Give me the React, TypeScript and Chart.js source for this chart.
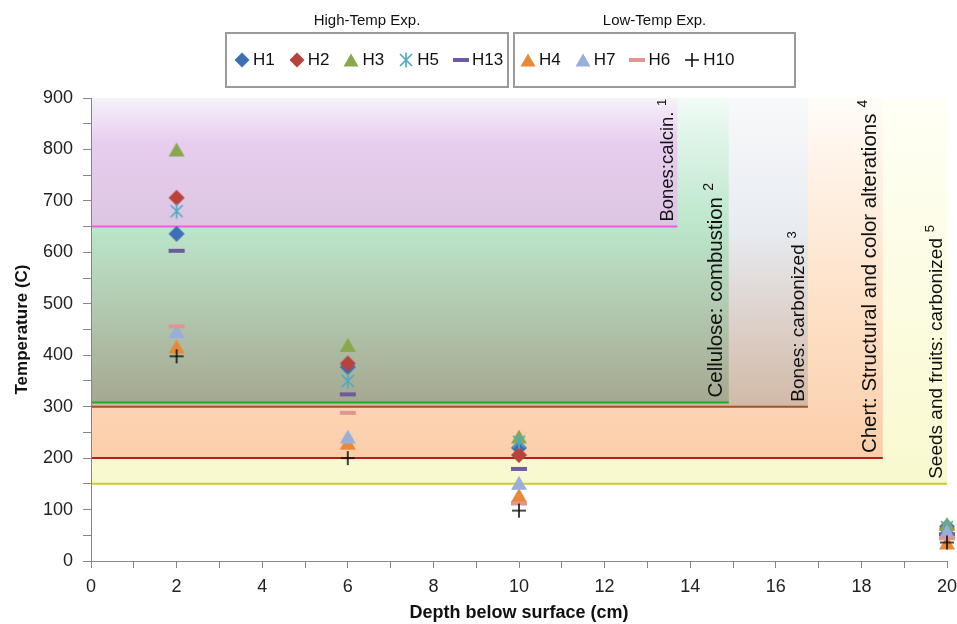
import React, { useEffect, useRef } from 'react';
import { Chart, registerables } from 'chart.js';

Chart.register(...registerables);

// ---------------- data ----------------
const depths = [2, 6, 10, 20];
const h1 = [636, 377, 220, 67];
const h2 = [706, 384, 206, 62];
const h3 = [800, 420, 242, 72];
const h5 = [680, 350, 232, 66];
const h13 = [603, 324, 179, 52];
const h4 = [417, 230, 128, 36];
const h7 = [447, 242, 152, 58];
const h6 = [456, 288, 112, 44];
const h10 = [398, 200, 98, 36];

const seriesNames = ['H1', 'H2', 'H3', 'H5', 'H13', 'H4', 'H7', 'H6', 'H10'];
const seriesValues = [h1, h2, h3, h5, h13, h4, h7, h6, h10];
const groupTitles = ['High-Temp Exp.', 'Low-Temp Exp.'];
const groupSizes = [5, 4];

const zoneNames = [
  'Seeds and fruits: carbonized',
  'Chert: Structural and color alterations',
  'Bones: carbonized',
  'Cellulose: combustion',
  'Bones:calcin.',
];
const zoneNotes = ['5', '4', '3', '2', '1'];
const zoneMinTemp = [150, 200, 300, 308, 650];
const zoneMaxDepth = [20, 18.5, 16.75, 14.9, 13.7];

const xMin = 0;
const xMax = 20;
const yMin = 0;
const yMax = 900;

// ---------------- styles ----------------
const seriesKinds = ['diamond', 'diamond', 'triangle', 'star', 'dash', 'triangle', 'triangle', 'dash', 'plus'];
const seriesColors = ['#3f6fb3', '#b8433c', '#88a84b', '#4baac6', '#6c5b9e', '#e7883b', '#98aedb', '#df9693', '#111111'];

type Stop = [number, string];
const zoneStyles: { stops: Stop[]; line: string; gap: number; size: number }[] = [
  { stops: [[0, '#fffff6'], [1, '#f9f9cf']], line: '#cccc2a', gap: 5, size: 19 },
  { stops: [[0, '#fffcf8'], [0.55, '#fde2c9'], [1, '#fbceaa']], line: '#b0201c', gap: 7, size: 20.5 },
  { stops: [[0, '#f8f9fa'], [0.42, '#e8ecf1'], [1, '#d2b9a7']], line: '#9c5428', gap: 4, size: 19 },
  { stops: [[0, '#f0fbf6'], [0.42, '#bce6cb'], [1, '#a6a890']], line: '#22aa22', gap: 7, size: 20.5 },
  { stops: [[0, '#f6f2f9'], [0.35, '#e7cdef'], [1, '#dcc5e2']], line: '#f45adf', gap: 4, size: 18.5 },
];

const FONT = '"Liberation Sans", Arial, sans-serif';

function makeMarker(kind: string, color: string): HTMLCanvasElement {
  const c = document.createElement('canvas');
  const s = 20;
  c.width = s;
  c.height = s;
  const g = c.getContext('2d')!;
  const m = s / 2;
  g.fillStyle = color;
  g.strokeStyle = color;
  g.lineCap = 'butt';
  g.beginPath();
  if (kind === 'diamond') {
    g.moveTo(m, m - 8);
    g.lineTo(m + 8, m);
    g.lineTo(m, m + 8);
    g.lineTo(m - 8, m);
    g.closePath();
    g.fill();
  } else if (kind === 'triangle') {
    g.moveTo(m, m - 7);
    g.lineTo(m + 8, m + 7);
    g.lineTo(m - 8, m + 7);
    g.closePath();
    g.fill();
  } else if (kind === 'dash') {
    g.fillRect(m - 8, m - 2, 16, 4);
  } else if (kind === 'star') {
    g.lineWidth = 1.6;
    g.moveTo(m - 6, m - 6);
    g.lineTo(m + 6, m + 6);
    g.moveTo(m + 6, m - 6);
    g.lineTo(m - 6, m + 6);
    g.moveTo(m, m - 7.5);
    g.lineTo(m, m + 7.5);
    g.stroke();
  } else if (kind === 'plus') {
    g.lineWidth = 1.6;
    g.moveTo(m - 7, m);
    g.lineTo(m + 7, m);
    g.moveTo(m, m - 7);
    g.lineTo(m, m + 7);
    g.stroke();
  }
  return c;
}

function LegendMarker({ kind, color }: { kind: string; color: string }) {
  const common = { width: 16, height: 16, style: { display: 'block' } as React.CSSProperties };
  if (kind === 'diamond')
    return (
      <svg {...common}>
        <polygon points="8,0.5 15.5,8 8,15.5 0.5,8" fill={color} />
      </svg>
    );
  if (kind === 'triangle')
    return (
      <svg {...common}>
        <polygon points="8,1.5 15.5,14.5 0.5,14.5" fill={color} />
      </svg>
    );
  if (kind === 'dash')
    return (
      <svg {...common}>
        <rect x={0} y={6} width={16} height={4} fill={color} />
      </svg>
    );
  if (kind === 'star')
    return (
      <svg {...common}>
        <path d="M2,2 L14,14 M14,2 L2,14 M8,0.5 L8,15.5" stroke={color} strokeWidth={1.6} fill="none" />
      </svg>
    );
  return (
    <svg {...common}>
      <path d="M1,8 L15,8 M8,1 L8,15" stroke={color} strokeWidth={1.6} fill="none" />
    </svg>
  );
}

const zonePlugin = {
  id: 'zones',
  beforeDraw(chart: any) {
    const { ctx } = chart;
    const xs = chart.scales.x;
    const ys = chart.scales.y;
    const x0 = xs.getPixelForValue(xMin);
    const yTop = ys.getPixelForValue(yMax);
    ctx.save();
    zoneMinTemp.forEach((t, i) => {
      const st = zoneStyles[i];
      const x1 = xs.getPixelForValue(zoneMaxDepth[i]);
      const yb = ys.getPixelForValue(t);
      const g = ctx.createLinearGradient(0, yTop, 0, yb);
      st.stops.forEach(([o, c]) => g.addColorStop(o, c));
      ctx.fillStyle = g;
      ctx.fillRect(x0, yTop, x1 - x0, yb - yTop);
      ctx.strokeStyle = st.line;
      ctx.lineWidth = 2;
      ctx.beginPath();
      ctx.moveTo(x0, yb);
      ctx.lineTo(x1, yb);
      ctx.stroke();
    });
    zoneMinTemp.forEach((t, i) => {
      const st = zoneStyles[i];
      const x1 = xs.getPixelForValue(zoneMaxDepth[i]);
      const yb = ys.getPixelForValue(t);
      ctx.save();
      ctx.translate(x1 - st.gap, yb - 5);
      ctx.rotate(-Math.PI / 2);
      ctx.fillStyle = '#111';
      ctx.textAlign = 'left';
      ctx.textBaseline = 'alphabetic';
      ctx.font = `${st.size}px ${FONT}`;
      const w = ctx.measureText(zoneNames[i]).width + st.size * 0.3;
      ctx.fillText(zoneNames[i], 0, 0);
      ctx.font = `${Math.round(st.size * 0.68)}px ${FONT}`;
      ctx.fillText(zoneNotes[i], w, -st.size * 0.42);
      ctx.restore();
    });
    ctx.restore();
  },
};

export default function App() {
  const ref = useRef<HTMLCanvasElement>(null);

  useEffect(() => {
    const canvas = ref.current!;
    const datasets = seriesNames.map((name, i) => ({
      label: name,
      data: depths.map((d, j) => ({ x: d, y: seriesValues[i][j] })),
      pointStyle: makeMarker(seriesKinds[i], seriesColors[i]),
      pointRadius: 8,
      pointHoverRadius: 8,
      backgroundColor: seriesColors[i],
      borderColor: seriesColors[i],
      showLine: false,
      clip: false as any,
      order: seriesNames.length - i,
    }));
    const chart = new Chart(canvas, {
      type: 'scatter',
      data: { datasets },
      plugins: [zonePlugin],
      options: {
        responsive: false,
        animation: false,
        layout: { padding: { top: 98, right: 0, left: 0, bottom: 0 } },
        plugins: { legend: { display: false }, tooltip: { enabled: false } },
        scales: {
          x: {
            type: 'linear',
            min: xMin,
            max: xMax,
            afterFit: (s: any) => {
              s.height = 63;
              s.paddingLeft = 0;
              s.paddingRight = 10;
            },
            ticks: {
              stepSize: 1,
              autoSkip: false,
              maxRotation: 0,
              padding: 8,
              color: '#222',
              font: { family: FONT, size: 18 },
              callback: (v: any) => (Number(v) % 2 === 0 ? String(v) : ''),
            },
            grid: { drawOnChartArea: false, drawTicks: true, tickLength: 7, color: '#868686' },
            border: { color: '#868686', width: 1 },
            title: {
              display: true,
              text: 'Depth below surface (cm)',
              color: '#111',
              font: { family: FONT, size: 18, weight: 'bold' },
              padding: { top: 2, bottom: 0 },
            },
          },
          y: {
            type: 'linear',
            min: yMin,
            max: yMax,
            afterFit: (s: any) => {
              s.width = 91;
              s.paddingTop = 0;
              s.paddingBottom = 0;
            },
            ticks: {
              stepSize: 50,
              autoSkip: false,
              padding: 10,
              color: '#222',
              font: { family: FONT, size: 18 },
              callback: (v: any) => (Number(v) % 100 === 0 ? String(v) : ''),
            },
            grid: { drawOnChartArea: false, drawTicks: true, tickLength: 8, color: '#868686' },
            border: { color: '#868686', width: 1 },
            title: {
              display: true,
              text: 'Temperature (C)',
              color: '#111',
              font: { family: FONT, size: 17, weight: 'bold' },
              padding: { top: 12, bottom: 0 },
            },
          },
        },
      } as any,
    });
    return () => chart.destroy();
  }, []);

  const boxLefts = [225, 513];
  const boxWidths = [284, 283];
  const boxPad = [7, 5];
  let start = 0;
  const groups = groupTitles.map((title, gi) => {
    const idx = seriesNames.slice(start, start + groupSizes[gi]).map((_, k) => start + k);
    start += groupSizes[gi];
    return { title, idx };
  });

  return (
    <div
      style={{
        position: 'absolute',
        left: 0,
        top: 0,
        width: 957,
        height: 624,
        background: '#fff',
        fontFamily: FONT,
        overflow: 'hidden',
      }}
    >
      <canvas ref={ref} width={957} height={624} style={{ position: 'absolute', left: 0, top: 0 }} />
      {groups.map((g, gi) => (
        <React.Fragment key={gi}>
          <div
            style={{
              position: 'absolute',
              left: boxLefts[gi],
              width: boxWidths[gi],
              top: 11,
              textAlign: 'center',
              fontSize: 15,
              color: '#111',
            }}
          >
            {g.title}
          </div>
          <div
            style={{
              position: 'absolute',
              left: boxLefts[gi],
              top: 32,
              width: boxWidths[gi],
              height: 56,
              boxSizing: 'border-box',
              border: '2px solid #9a9a9a',
              display: 'flex',
              alignItems: 'center',
              paddingLeft: boxPad[gi],
              gap: 14,
              background: '#fff',
            }}
          >
            {g.idx.map((i) => (
              <div key={i} style={{ display: 'flex', alignItems: 'center', gap: 3 }}>
                <LegendMarker kind={seriesKinds[i]} color={seriesColors[i]} />
                <span style={{ fontSize: 17, color: '#111' }}>{seriesNames[i]}</span>
              </div>
            ))}
          </div>
        </React.Fragment>
      ))}
    </div>
  );
}
